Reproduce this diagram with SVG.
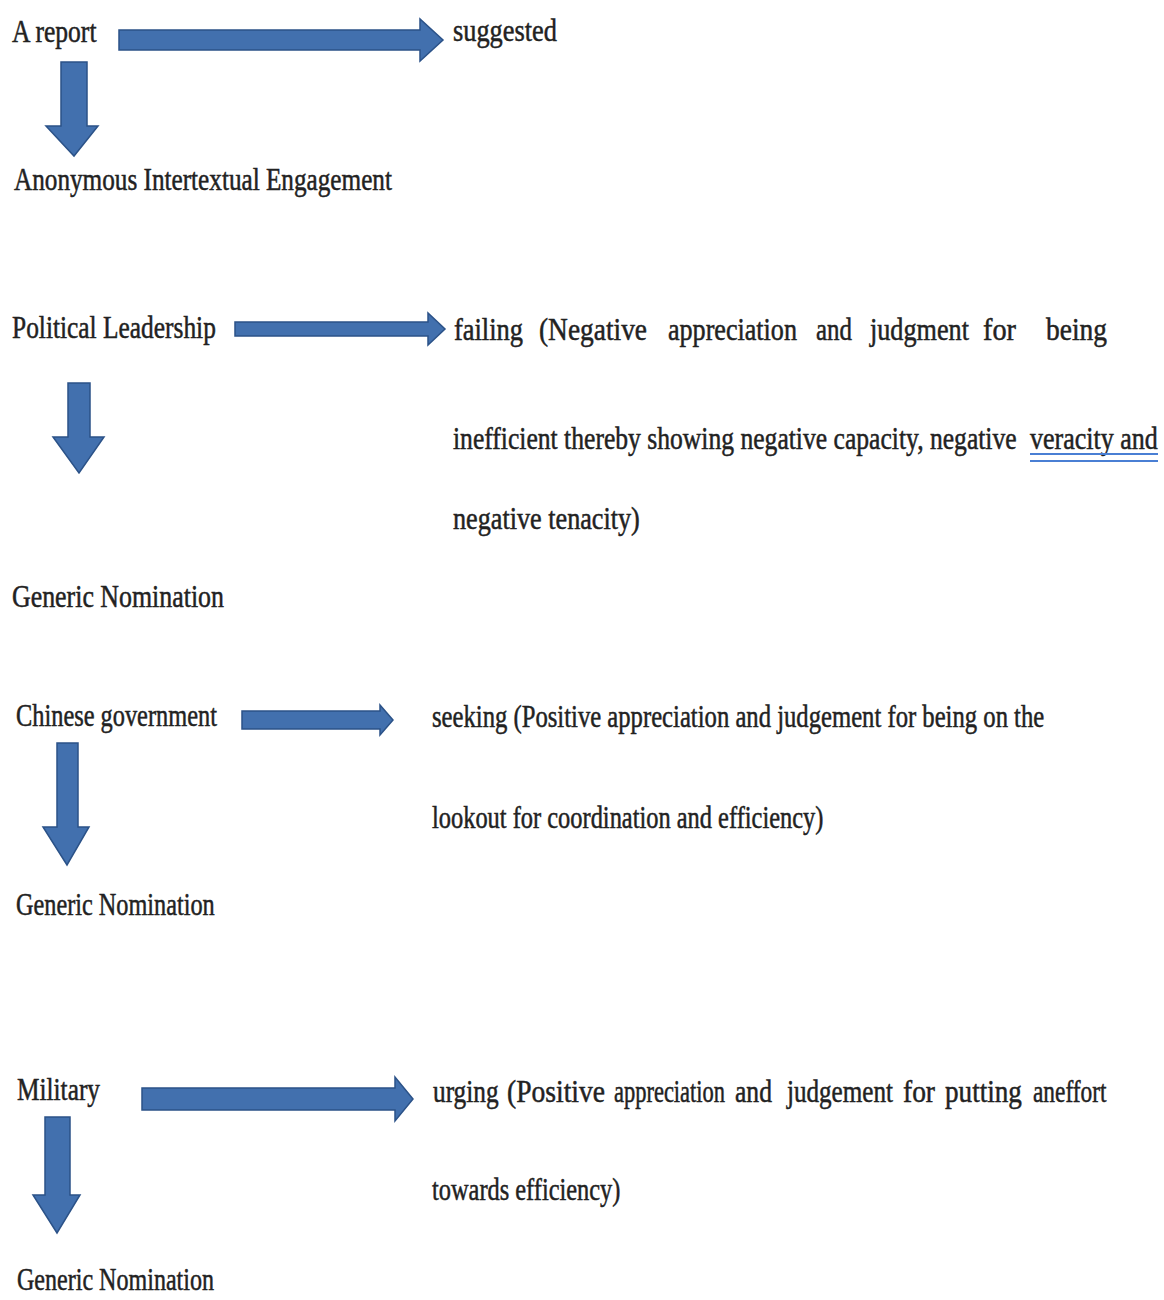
<svg xmlns="http://www.w3.org/2000/svg" width="1164" height="1300" viewBox="0 0 1164 1300">
<style>
.t{font-family:"Liberation Serif","Times New Roman",serif;font-size:31px;fill:#222222;stroke:#222222;stroke-width:0.5;}
.ar{fill:#4270ae;stroke:#2b5288;stroke-width:1.5;stroke-linejoin:miter;}
.ul{stroke:#4a7fd4;stroke-width:2.2;}
</style>
<rect width="1164" height="1300" fill="#ffffff"/>
<g id="connectors">
<path class="ar" d="M119,30 H420 V19 L443,40 L420,61 V50 H119 Z"/>
<path class="ar" d="M61,62 H87 V126 H98 L74,156 L46,126 H61 Z"/>
<path class="ar" d="M235,322 H428 V313 L445,329 L428,345 V336 H235 Z"/>
<path class="ar" d="M68,383 H90 V437 H104 L79,473 L53,437 H68 Z"/>
<path class="ar" d="M242,711 H380 V705 L393,720 L380,735 V729 H242 Z"/>
<path class="ar" d="M57,743 H78 V827 H89 L67,865 L43,827 H57 Z"/>
<path class="ar" d="M142,1088 H395 V1077 L413,1099 L395,1121 V1110 H142 Z"/>
<path class="ar" d="M45,1117 H70 V1195 H80 L57,1233 L33,1195 H45 Z"/>
</g>
<g id="n-report"><text class="t" transform="translate(12,42) scale(0.825,1)">A report</text></g>
<g id="n-suggested"><text class="t" transform="translate(453,41) scale(0.85,1)">suggested</text></g>
<g id="n-anon"><text class="t" transform="translate(14,190) scale(0.813,1)">Anonymous Intertextual Engagement</text></g>
<g id="n-political"><text class="t" transform="translate(12,338) scale(0.82,1)">Political Leadership</text></g>
<g id="n-failing">
<text class="t" transform="translate(454,340) scale(0.853,1)">failing</text>
<text class="t" transform="translate(539,340) scale(0.884,1)">(Negative</text>
<text class="t" transform="translate(668,340) scale(0.842,1)">appreciation</text>
<text class="t" transform="translate(816,340) scale(0.804,1)">and</text>
<text class="t" transform="translate(870,340) scale(0.845,1)">judgment</text>
<text class="t" transform="translate(983,340) scale(0.913,1)">for</text>
<text class="t" transform="translate(1046,340) scale(0.885,1)">being</text>
<text class="t" transform="translate(453,449) scale(0.826,1)">inefficient thereby showing negative capacity, negative</text>
<text class="t" transform="translate(1030,449) scale(0.84,1)">veracity and</text>
<line class="ul" x1="1030" y1="454" x2="1158" y2="454"/>
<line class="ul" x1="1030" y1="461" x2="1158" y2="461"/>
<text class="t" transform="translate(453,529) scale(0.845,1)">negative tenacity)</text>
</g>
<g id="n-generic1"><text class="t" transform="translate(12,607) scale(0.835,1)">Generic Nomination</text></g>
<g id="n-chinese"><text class="t" transform="translate(16,726) scale(0.786,1)">Chinese government</text></g>
<g id="n-seeking">
<text class="t" transform="translate(432,727) scale(0.796,1)">seeking (Positive appreciation and judgement for being on the</text>
<text class="t" transform="translate(432,828) scale(0.788,1)">lookout for coordination and efficiency)</text>
</g>
<g id="n-generic2"><text class="t" transform="translate(16,915) scale(0.783,1)">Generic Nomination</text></g>
<g id="n-military"><text class="t" transform="translate(17,1100) scale(0.817,1)">Military</text></g>
<g id="n-urging">
<text class="t" transform="translate(433,1102) scale(0.816,1)">urging</text>
<text class="t" transform="translate(507,1102) scale(0.889,1)">(Positive</text>
<text class="t" transform="translate(614,1102) scale(0.725,1)">appreciation</text>
<text class="t" transform="translate(735,1102) scale(0.826,1)">and</text>
<text class="t" transform="translate(787,1102) scale(0.81,1)">judgement</text>
<text class="t" transform="translate(903,1102) scale(0.886,1)">for</text>
<text class="t" transform="translate(945,1102) scale(0.876,1)">putting</text>
<text class="t" transform="translate(1033,1102) scale(0.754,1)">aneffort</text>
<text class="t" transform="translate(432,1200) scale(0.787,1)">towards efficiency)</text>
</g>
<g id="n-generic3"><text class="t" transform="translate(17,1290) scale(0.776,1)">Generic Nomination</text></g>
</svg>
